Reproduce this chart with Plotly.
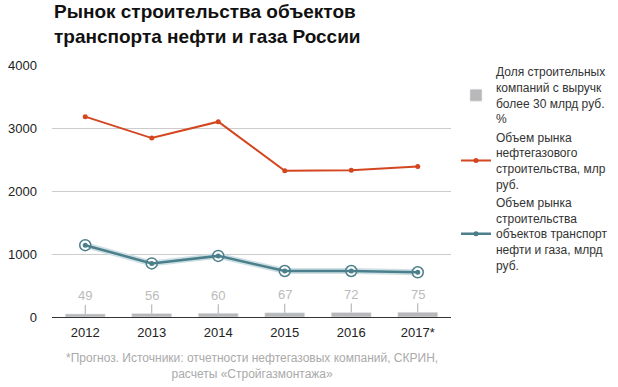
import plotly.graph_objects as go

years = ["2012", "2013", "2014", "2015", "2016", "2017*"]
share_pct = [49, 56, 60, 67, 72, 75]
oilgas_market = [3180, 2840, 3100, 2320, 2330, 2390]
transport_market = [1140, 850, 970, 730, 730, 710]
y_ticks = [0, 1000, 2000, 3000, 4000]

RED = "#d4461f"
TEAL = "#4a7f8b"
GRAY_BAR = "#b8b8b8"
FONT = "Liberation Sans, Arial"

fig = go.Figure()

fig.add_trace(go.Bar(
    x=years, y=share_pct, width=0.6, marker_color=GRAY_BAR,
    name="Доля строительных<br>компаний с выручк<br>более 30 млрд руб.<br>%",
    hoverinfo="skip",
))

fig.add_trace(go.Scatter(
    x=years, y=oilgas_market, mode="lines+markers",
    line=dict(color=RED, width=2), marker=dict(color=RED, size=5),
    name="Объем рынка<br>нефтегазового<br>строительства, млр<br>руб.",
))

# halo under teal line
fig.add_trace(go.Scatter(
    x=years, y=transport_market, mode="lines",
    line=dict(color="#cfe0e4", width=6), showlegend=False, hoverinfo="skip",
))
fig.add_trace(go.Scatter(
    x=years, y=transport_market, mode="markers",
    marker=dict(color="white", size=11, line=dict(color=TEAL, width=1.5)),
    showlegend=False, hoverinfo="skip",
))
fig.add_trace(go.Scatter(
    x=years, y=transport_market, mode="lines+markers",
    line=dict(color=TEAL, width=2.5), marker=dict(color=TEAL, size=5),
    name="Объем рынка<br>строительства<br>объектов транспорт<br>нефти и газа, млрд<br>руб.",
))

for i, v in enumerate(share_pct):
    fig.add_annotation(
        x=i, y=v, text=str(v), showarrow=True, arrowhead=0,
        arrowcolor="#aaaaaa", arrowwidth=1, ax=0, ay=-18,
        font=dict(size=13, color="#bbbbbb", family=FONT),
    )

fig.add_annotation(
    xref="paper", yref="paper", x=0, y=1.262, xanchor="left", yanchor="top",
    text="<b>Рынок строительства объектов<br>транспорта нефти и газа России</b>",
    showarrow=False, align="left",
    font=dict(size=19, color="#111111", family=FONT),
)

fig.add_annotation(
    xref="paper", yref="paper", x=0.5, y=-0.125, xanchor="center", yanchor="top",
    text="*Прогноз. Источники: отчетности нефтегазовых компаний, СКРИН,<br>расчеты «Стройгазмонтажа»",
    showarrow=False, align="center",
    font=dict(size=12, color="#aaaaaa", family=FONT),
)

fig.update_layout(
    width=618, height=387,
    margin=dict(l=52, r=167, t=65, b=70, autoexpand=False),
    paper_bgcolor="white", plot_bgcolor="white",
    font=dict(family=FONT, color="#222222", size=13),
    showlegend=True,
    legend=dict(
        x=1.0125, y=1.03, xanchor="left", yanchor="top",
        font=dict(size=12, color="#333333"), tracegroupgap=6,
        bgcolor="rgba(0,0,0,0)", maxheight=1.0,
    ),
    bargap=0.4,
)

fig.update_xaxes(
    type="category", range=[-0.5, 5.5], showgrid=False, showline=False, ticks="",
    tickfont=dict(size=13, color="#222222"), ticklabelstandoff=6,
)
fig.update_yaxes(
    range=[0, 4000], tickvals=y_ticks, showgrid=True, gridcolor="#cccccc",
    zeroline=True, zerolinecolor="#333333", zerolinewidth=1,
    tickfont=dict(size=13, color="#222222"), ticks="", ticklabelstandoff=14,
)

fig.write_html("out.html", config={"displayModeBar": False},
               post_script="document.body.style.margin='0';")
